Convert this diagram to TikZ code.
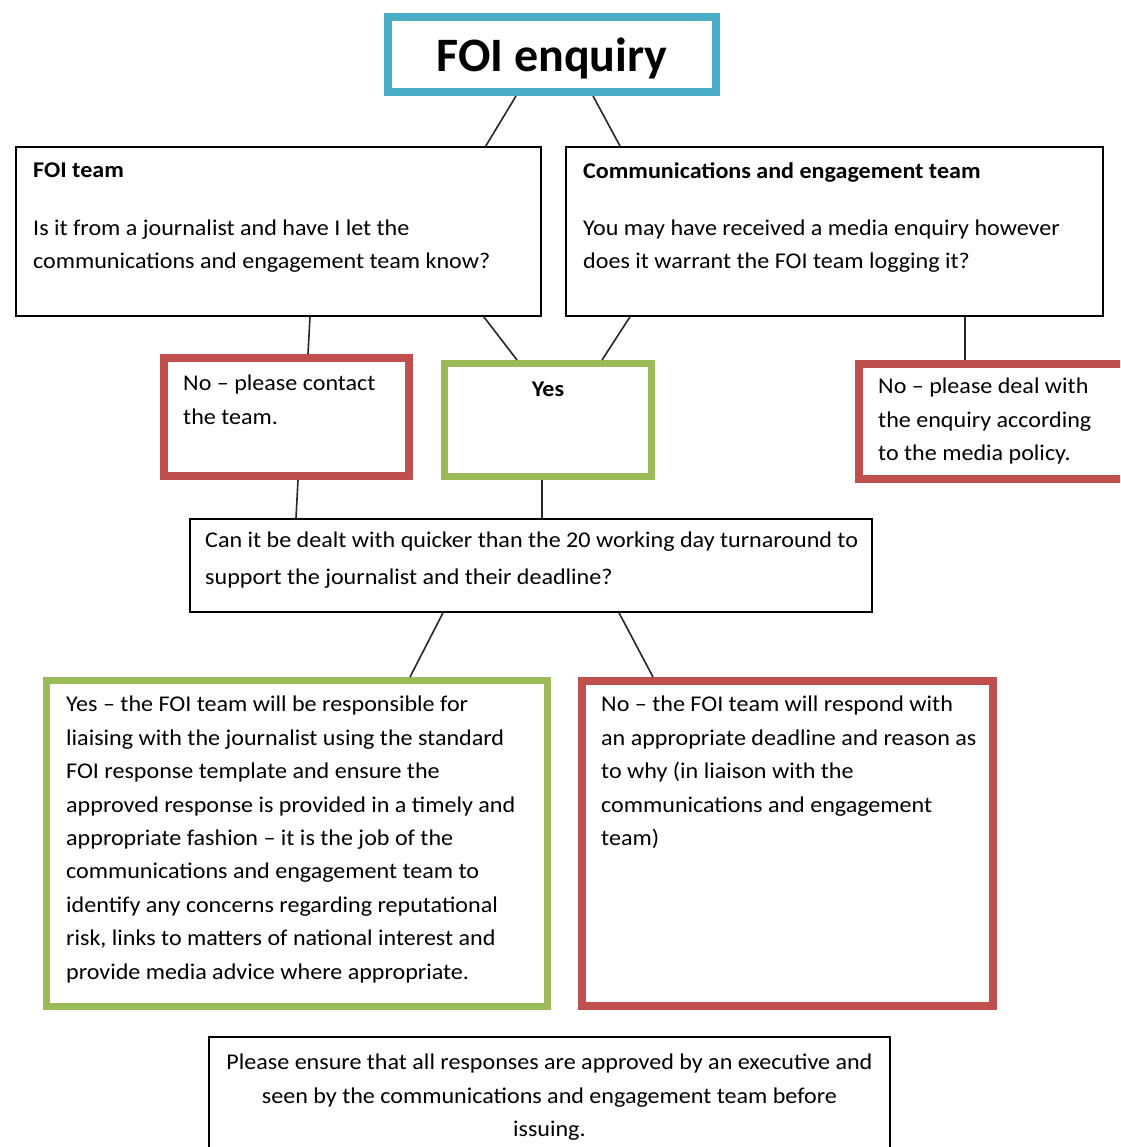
\documentclass[tikz,border=0pt]{standalone}
\usepackage{fontspec}
\setmainfont[FakeStretch=1.07]{Carlito}
\newfontfamily\titlefont{Carlito}
\definecolor{foired}{HTML}{C0504D}
\definecolor{foigreen}{HTML}{9BBB59}
\definecolor{foiteal}{HTML}{4BACC6}
\tikzset{cell/.style={rectangle, draw, line width=1.8pt, anchor=north west, inner sep=0pt}}
\tikzset{redcell/.style={cell, draw=foired, line width=8pt}}
\tikzset{greencell/.style={cell, draw=foigreen, line width=7pt}}
\tikzset{tealcell/.style={cell, draw=foiteal, line width=8pt}}
\tikzset{txt/.style={anchor=north west, align=left, inner sep=0pt,
   font=\fontsize{22.5}{33.4}\selectfont}}
\tikzset{link/.style={line width=1.6pt, black!85}}

\begin{document}
\begin{tikzpicture}[x=1pt, y=-1pt]

    \useasboundingbox (0,0) rectangle (1120,1147);
    \clip (0,0) rectangle (1120,1147);

    \node[tealcell, minimum width=328pt, minimum height=75pt, text depth=0pt,
      font=\titlefont\fontsize{48}{52}\selectfont\bfseries] (enq) at (384,13) {FOI enquiry};

    \node[cell, minimum width=525pt, minimum height=169pt,
      label={[txt, xshift=18pt, yshift=-17pt]north west:{\textbf{FOI team}\\[24pt]
        Is it from a journalist and have I let the\\
        communications and engagement team know?}}] (foi) at (15,146) {};
    \node[cell, minimum width=537pt, minimum height=169pt,
      label={[txt, xshift=18pt, yshift=-16pt]north west:{\textbf{Communications and engagement team}\\[24pt]
        You may have received a media enquiry however\\
        does it warrant the FOI team logging it?}}] (comms) at (565,146) {};

    \node[redcell, minimum width=245pt, minimum height=118pt,
      label={[txt, xshift=23pt, yshift=-21pt]north west:{No -- please contact\\the team.}}] (nocontact) at (160,354) {};
    \node[greencell, minimum width=207pt, minimum height=113pt,
      label={[txt, anchor=north, yshift=-22pt]north:{\textbf{Yes}}}] (yes) at (441,360) {};
    \node[redcell, minimum width=267pt, minimum height=115pt,
      label={[txt, xshift=23pt, yshift=-18pt]north west:{No -- please deal with\\
        the enquiry according\\to the media policy.}}] (nodeal) at (855,360) {};

    \node[cell, minimum width=682pt, minimum height=93pt,
      label={[txt, xshift=16pt, yshift=-14pt]north west:{Can it be dealt with quicker than the 20 working day turnaround to\\[3pt]
        support the journalist and their deadline?}}] (canit) at (189,518) {};

    \node[greencell, minimum width=501pt, minimum height=326pt,
      label={[txt, xshift=23pt, yshift=-19pt]north west:{Yes -- the FOI team will be responsible for\\
        liaising with the journalist using the standard\\
        FOI response template and ensure the\\
        approved response is provided in a timely and\\
        appropriate fashion -- it is the job of the\\
        communications and engagement team to\\
        identify any concerns regarding reputational\\
        risk, links to matters of national interest and\\
        provide media advice where appropriate.}}] (yesbig) at (43,677) {};
    \node[redcell, minimum width=411pt, minimum height=325pt,
      label={[txt, xshift=23pt, yshift=-19pt]north west:{No -- the FOI team will respond with\\
        an appropriate deadline and reason as\\
        to why (in liaison with the\\
        communications and engagement\\
        team)}}] (nobig) at (578,677) {};

    \node[cell, minimum width=681pt, minimum height=132pt,
      label={[txt, anchor=north, align=center, yshift=-18pt]north:{Please ensure that all responses are approved by an executive and\\
        seen by the communications and engagement team before\\
        issuing.}}] (note) at (208,1036) {};

    % connectors
    \draw[link] ([xshift=132pt]enq.south west) -- ([xshift=-56pt]foi.north east);
    \draw[link] ([xshift=-127pt]enq.south east) -- ([xshift=55pt]comms.north west);
    \draw[link] ([xshift=295pt]foi.south west) -- ([xshift=148pt]nocontact.north west);
    \draw[link] ([xshift=-58pt]foi.south east) -- ([xshift=76pt]yes.north west);
    \draw[link] ([xshift=65pt]comms.south west) -- ([xshift=-53pt]yes.north east);
    \draw[link] ([xshift=400pt]comms.south west) -- ([xshift=110pt]nodeal.north west);
    \draw[link] ([xshift=138pt]nocontact.south west) -- ([xshift=107pt]canit.north west);
    \draw[link] ([xshift=-6pt]yes.south) -- ([xshift=353pt]canit.north west);
    \draw[link] ([xshift=254pt]canit.south west) -- ([xshift=367pt]yesbig.north west);
    \draw[link] ([xshift=430pt]canit.south west) -- ([xshift=75pt]nobig.north west);

\end{tikzpicture}
\end{document}
